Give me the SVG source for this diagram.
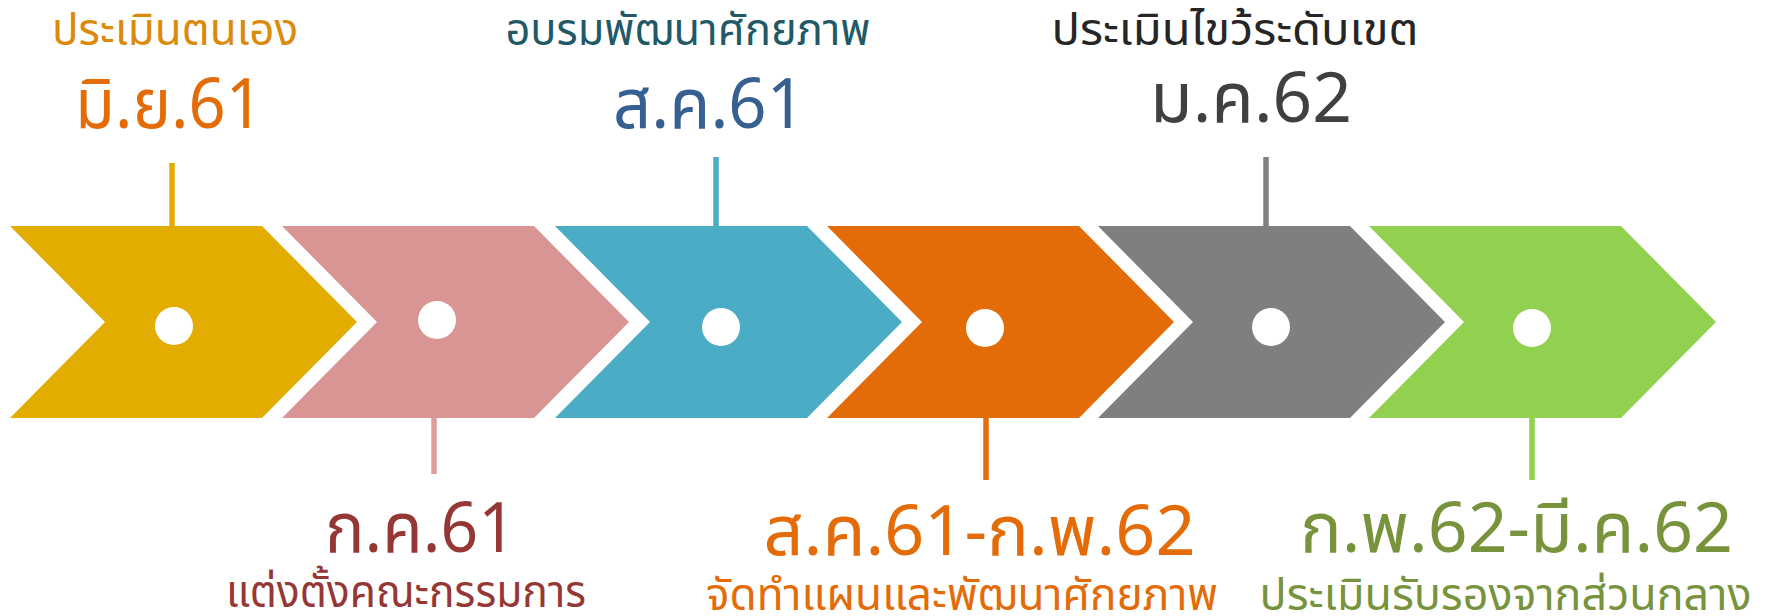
<svg xmlns="http://www.w3.org/2000/svg" width="1770" height="616" viewBox="0 0 1770 616">
<style>
text{font-family:"Noto Sans Thai","Noto Sans","DejaVu Sans",sans-serif;text-anchor:middle}
.big{font-size:70px}
.small{font-size:44px}
.tick{stroke-width:5.5;fill:none}
.dot{fill:#ffffff}
</style>
<defs>
<path id="chev" d="M0,226 H252 L347,322 L252,418 H0 L95,322 Z"/>
</defs>
<g id="connectors">
<line class="tick" x1="172" y1="163" x2="172" y2="227" stroke="#E2AD00"/>
<line class="tick" x1="434" y1="417" x2="434" y2="474" stroke="#DE9E9E"/>
<line class="tick" x1="716" y1="157" x2="716" y2="227" stroke="#4BACC6"/>
<line class="tick" x1="986" y1="417" x2="986" y2="480" stroke="#E36C0A"/>
<line class="tick" x1="1266" y1="157" x2="1266" y2="227" stroke="#808080"/>
<line class="tick" x1="1532" y1="417" x2="1532" y2="480" stroke="#92D050"/>
</g>
<g id="n1">
<use href="#chev" x="10" fill="#E2AD00"/>
<circle class="dot" cx="174" cy="326" r="19"/>
<text class="small" x="175" y="45" textLength="246" lengthAdjust="spacingAndGlyphs" fill="#DB8A0B">ประเมินตนเอง</text>
<text class="big" x="169" y="128" textLength="188" lengthAdjust="spacingAndGlyphs" fill="#E36C09">มิ.ย.61</text>
</g>
<g id="n2">
<use href="#chev" x="282" fill="#D99594"/>
<circle class="dot" cx="437" cy="320" r="19"/>
<text class="big" x="420.5" y="551.5" textLength="191" lengthAdjust="spacingAndGlyphs" fill="#953735">ก.ค.61</text>
<text class="small" x="406" y="607" textLength="360" lengthAdjust="spacingAndGlyphs" fill="#953735">แต่งตั้งคณะกรรมการ</text>
</g>
<g id="n3">
<use href="#chev" x="555" fill="#4BACC6"/>
<circle class="dot" cx="721" cy="327" r="19"/>
<text class="small" x="688" y="45" textLength="365" lengthAdjust="spacingAndGlyphs" fill="#215967">อบรมพัฒนาศักยภาพ</text>
<text class="big" x="709" y="128" textLength="192" lengthAdjust="spacingAndGlyphs" fill="#376092">ส.ค.61</text>
</g>
<g id="n4">
<use href="#chev" x="827" fill="#E36C09"/>
<circle class="dot" cx="985" cy="328" r="19"/>
<text class="big" x="979.5" y="555" textLength="432" lengthAdjust="spacingAndGlyphs" fill="#E36C09">ส.ค.61-ก.พ.62</text>
<text class="small" x="962" y="610" textLength="512" lengthAdjust="spacingAndGlyphs" fill="#E36C09">จัดทำแผนและพัฒนาศักยภาพ</text>
</g>
<g id="n5">
<use href="#chev" x="1098" fill="#7F7F7F"/>
<circle class="dot" cx="1271" cy="327" r="19"/>
<text class="small" x="1235" y="45" textLength="367" lengthAdjust="spacingAndGlyphs" fill="#262626">ประเมินไขว้ระดับเขต</text>
<text class="big" x="1251" y="121.5" textLength="202" lengthAdjust="spacingAndGlyphs" fill="#404040">ม.ค.62</text>
</g>
<g id="n6">
<use href="#chev" x="1369" fill="#92D050"/>
<circle class="dot" cx="1532" cy="328" r="19"/>
<text class="big" x="1516.5" y="551.5" textLength="433" lengthAdjust="spacingAndGlyphs" fill="#77933C">ก.พ.62-มี.ค.62</text>
<text class="small" x="1505.5" y="610" textLength="492" lengthAdjust="spacingAndGlyphs" fill="#77933C">ประเมินรับรองจากส่วนกลาง</text>
</g>
</svg>
